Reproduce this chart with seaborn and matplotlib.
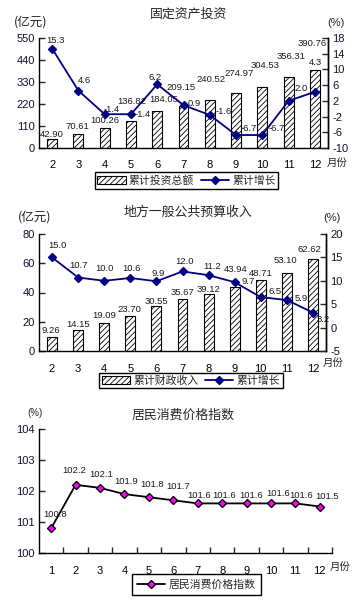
import numpy as np
import pandas as pd
import matplotlib
matplotlib.use("Agg")
import matplotlib.pyplot as plt
from matplotlib.patches import Patch
from matplotlib.lines import Line2D
from matplotlib.ticker import MultipleLocator
import seaborn as sns

sns.set_theme(style="white")
plt.rcParams['font.family'] = ['Liberation Sans', 'Noto Sans CJK SC', 'DejaVu Sans']
plt.rcParams['hatch.linewidth'] = 0.6
plt.rcParams['axes.unicode_minus'] = False

# ---------------- data ----------------
months_a = ["2", "3", "4", "5", "6", "7", "8", "9", "10", "11", "12"]
invest_total = [42.90, 70.61, 100.26, 136.82, 184.05, 209.15, 240.52, 274.97, 304.53, 356.31, 390.76]
invest_growth = [15.3, 4.6, -1.4, -1.4, 6.2, 0.9, -1.6, -6.7, -6.7, 2.0, 4.3]

revenue_total = [9.26, 14.15, 19.09, 23.70, 30.55, 35.67, 39.12, 43.94, 48.71, 53.10, 62.62]
revenue_growth = [15.0, 10.7, 10.0, 10.6, 9.9, 12.0, 11.2, 9.7, 6.5, 5.9, 3.2]

months_c = ["1", "2", "3", "4", "5", "6", "7", "8", "9", "10", "11", "12"]
cpi = [100.8, 102.2, 102.1, 101.9, 101.8, 101.7, 101.6, 101.6, 101.6, 101.6, 101.6, 101.5]

titles = ["固定资产投资", "地方一般公共预算收入", "居民消费价格指数"]
legend_a = ["累计投资总额", "累计增长"]
legend_b = ["累计财政收入", "累计增长"]
legend_c = ["居民消费价格指数"]

# label offsets (pixels), style only
bar_dx1 = [0, -1, 0, 1, 6, -2, 1, 3, 3, 2, -3]
bar_dy1 = [5, 7, 7, 19, 12, 19, 20, 20, 22, 20, 26]
line_dx1 = [3, 6, 7, 12, -2, 11, 14, 13, 14, 13, 1]
line_dy1 = [8, 10, 5, 0, 7, 2, 3, 7, 7, 12, 29]
bar_dx2 = [-1, 0, 0, -1, 0, 0, 0, 1, 0, -1, -4]
bar_dy2 = [6.5, 6, 8, 7, 5, 6.5, 4.5, 17, 6, 12.6, 10]
line_dx2 = [5, 0, 0, 1, 2, 2, 4, 14, 14, 14, 10]
line_dy2 = [12, 12.5, 12, 9, 8, 10, 8.5, 1, 6, 1, -7]
cpi_dx = [4, -1, 1, 2, 3, 5, 1, 2, 5, 7, 6, 7]
cpi_dy = [14, 14, 13.6, 13, 13, 14, 8, 8, 8, 10, 8, 10]

W, H = 361, 614
fig = plt.figure(figsize=(W / 100, H / 100), dpi=100)
fig.patch.set_facecolor("white")

NAVY = "#000080"
HATCH = "//////"
TXT = "#1a1a1a"
TICKC = "#111133"
CJK = ['Noto Sans CJK SC', 'DejaVu Sans']


def rect(x0, x1, ytop, ybot):
    return [x0 / W, 1 - ybot / H, (x1 - x0) / W, (ybot - ytop) / H]


def style_axes(ax):
    ax.spines["top"].set_visible(False)
    for s in ["left", "bottom", "right"]:
        ax.spines[s].set_color("black")
        ax.spines[s].set_linewidth(1.0)
    ax.set_facecolor("none")
    ax.grid(False)


def combo(box, months, totals, growth, lim_l, step_l, lim_r, step_r,
          bdx, bdy, ldx, ldy, title, title_y, unit_y, leg_labels, leg_center, mon_xy, unit_lx, unit_rx):
    ax = fig.add_axes(rect(*box))
    df = pd.DataFrame({"m": months, "v": totals, "g": growth})
    sns.barplot(data=df, x="m", y="v", ax=ax, color="white", width=0.38,
                edgecolor="black", linewidth=0.8, saturation=1)
    for p in ax.patches:
        p.set_hatch(HATCH)
        p.set_facecolor("white")
        p.set_edgecolor("black")
    ax.set_ylim(*lim_l)
    ax.set_yticks(np.arange(lim_l[0], lim_l[1] + step_l / 2, step_l))
    ax.set_xlabel("")
    ax.set_ylabel("")
    style_axes(ax)
    ax.tick_params(axis="y", direction="in", length=4, width=1, labelsize=8, pad=3, left=True)
    ax.tick_params(axis="x", length=0, labelsize=8, pad=9, colors="black")
    for lab in ax.get_yticklabels():
        lab.set_color(TICKC)

    ax2 = ax.twinx()
    sns.pointplot(data=df, x="m", y="g", ax=ax2, color=NAVY, markers="D",
                  markersize=4.5, linewidth=1.3, errorbar=None)
    ax2.set_ylim(*lim_r)
    ax2.set_yticks(np.arange(lim_r[0], lim_r[1] + step_r / 2, step_r))
    ax2.set_xlim(-0.5, len(months) - 0.5)
    ax.set_xlim(-0.5, len(months) - 0.5)
    ax2.set_ylabel("")
    ax2.set_xlabel("")
    style_axes(ax2)
    ax2.spines["left"].set_visible(False)
    ax2.spines["bottom"].set_visible(False)
    ax2.tick_params(axis="y", direction="in", length=4, width=1, labelsize=8, pad=3, right=True)
    for lab in ax2.get_yticklabels():
        lab.set_color(TICKC)

    for i, (v, dx, dy) in enumerate(zip(totals, bdx, bdy)):
        ax.annotate(f"{v:.2f}", (i, v), xytext=(dx, dy), textcoords="offset pixels",
                    ha="center", va="center", fontsize=6.8, color=TXT)
    for i, (g, dx, dy) in enumerate(zip(growth, ldx, ldy)):
        ax2.annotate(f"{g:.1f}", (i, g), xytext=(dx, dy), textcoords="offset pixels",
                     ha="center", va="center", fontsize=6.8, color=TXT)

    fig.text(188 / W, 1 - title_y / H, title, ha="center", va="center", fontsize=9.3, family=CJK)
    fig.text(unit_lx / W, 1 - unit_y / H, "(亿元)", ha="center", va="center", fontsize=9, family=CJK)
    fig.text(unit_rx / W, 1 - (unit_y + 1) / H, "(%)", ha="center", va="center", fontsize=8)
    fig.text(mon_xy[0] / W, 1 - mon_xy[1] / H, "月份", ha="center", va="center", fontsize=7.5, family=CJK)

    handles = [Patch(facecolor="white", edgecolor="black", hatch=HATCH, linewidth=0.8),
               Line2D([], [], color=NAVY, marker="D", markersize=4.5, linewidth=1.3)]
    leg = fig.legend(handles, leg_labels, loc="center",
                     bbox_to_anchor=(leg_center[0] / W, 1 - leg_center[1] / H),
                     ncol=2, frameon=True, fancybox=False, framealpha=1, edgecolor="black",
                     prop={"family": CJK, "size": 7.8},
                     handlelength=2.6, handleheight=0.8, columnspacing=0.6, handletextpad=0.3,
                     borderpad=0.25, borderaxespad=0)
    leg.get_frame().set_linewidth(1.0)
    return ax, ax2


combo((39, 328, 38, 148), months_a, invest_total, invest_growth, (0, 550), 110, (-10, 18), 4,
      bar_dx1, bar_dy1, line_dx1, line_dy1, titles[0], 14, 22, legend_a, (186.5, 180.5), (337, 163), 31, 336)

combo((39, 326, 234, 351), months_a, revenue_total, revenue_growth, (0, 80), 20, (-5, 20), 5,
      bar_dx2, bar_dy2, line_dx2, line_dy2, titles[1], 212, 217, legend_b, (191, 380.5), (333, 363), 35, 332)

# ---------------- CPI chart ----------------
ax3 = fig.add_axes(rect(39, 332, 429, 553))
dfc = pd.DataFrame({"m": months_c, "v": cpi})
sns.pointplot(data=dfc, x="m", y="v", ax=ax3, color="black", markers="D", markersize=4.5,
              linewidth=1.3, errorbar=None)
for coll in ax3.collections:
    coll.set_facecolor("#FF00FF")
    coll.set_edgecolor("black")
    coll.set_linewidth(0.6)
for ln in ax3.lines:
    ln.set_markerfacecolor("#FF00FF")
    ln.set_markeredgecolor("black")
ax3.set_xlim(-0.5, len(months_c) - 0.5)
ax3.set_ylim(100, 104)
ax3.yaxis.set_major_locator(MultipleLocator(1))
ax3.set_xlabel("")
ax3.set_ylabel("")
style_axes(ax3)
ax3.spines["right"].set_visible(False)
ax3.set_xticks(np.arange(len(months_c)) + 0.5, minor=True)
ax3.tick_params(axis="x", which="major", length=0, labelsize=8, pad=9, colors="black")
ax3.tick_params(axis="x", which="minor", direction="in", length=4, width=1, bottom=True)
ax3.tick_params(axis="y", direction="in", length=4, width=1, labelsize=8, pad=3, left=True)
for lab in ax3.get_yticklabels():
    lab.set_color(TICKC)
for i, (v, dx, dy) in enumerate(zip(cpi, cpi_dx, cpi_dy)):
    ax3.annotate(f"{v:.1f}", (i, v), xytext=(dx, dy), textcoords="offset pixels",
                 ha="center", va="center", fontsize=6.8, color=TXT)

fig.text(183 / W, 1 - 415 / H, titles[2], ha="center", va="center", fontsize=9.3, family=CJK)
fig.text(35 / W, 1 - 413 / H, "(%)", ha="center", va="center", fontsize=7)
fig.text(340 / W, 1 - 567 / H, "月份", ha="center", va="center", fontsize=7.5, family=CJK)
handles_c = [Line2D([], [], color="black", marker="D", markersize=4.5, linewidth=1.3,
                    markerfacecolor="#FF00FF", markeredgecolor="black")]
legc = fig.legend(handles_c, legend_c, loc="center",
                  bbox_to_anchor=(196.5 / W, 1 - 584.5 / H), frameon=True, fancybox=False,
                  framealpha=1, edgecolor="black",
                  prop={"family": CJK, "size": 7.8},
                  handlelength=2.6, handletextpad=0.3, borderpad=0.5, borderaxespad=0)
legc.get_frame().set_linewidth(1.0)

fig.savefig("out.png", dpi=100, facecolor="white")
